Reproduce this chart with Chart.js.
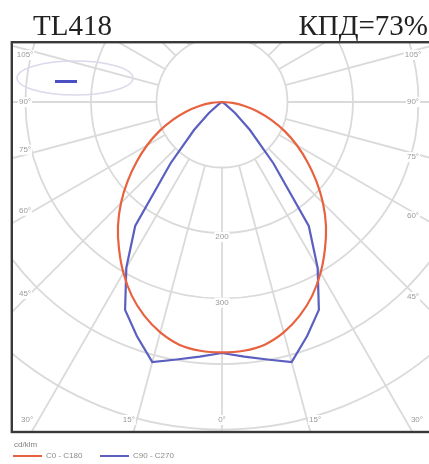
<!DOCTYPE html>
<html>
<head>
<meta charset="utf-8">
<script src="https://cdn.jsdelivr.net/npm/chart.js@4.4.1/dist/chart.umd.min.js"></script>
<style>
  html, body { margin: 0; padding: 0; background: #fff; overflow: hidden; }
  canvas { display: block; }
</style>
</head>
<body>
<canvas id="polarChart" width="429" height="464"></canvas>
<script>
// angle from nadir (deg), same on both halves of each plane
const angles = [0, 5, 10, 15, 20, 25, 30, 35, 40, 45, 50, 55, 60, 65, 70, 75, 80, 85, 90];
// luminous intensity, cd/klm
const c0c180 = [382, 381, 376, 364, 347, 326, 301, 274, 247, 218, 188, 159, 132, 106, 80, 57, 35, 16, 0];
const c90c270 = [383, 390, 399, 411, 380, 350, 292, 231, 122, 60, 26, 7, 2, 0, 0, 0, 0, 0, 0];

const rings = [100, 200, 300, 400, 500];
const ringLabels = [200, 300];
const angleTicks = [0, 15, 30, 45, 60, 75, 90, 105];

const seriesNames = ['C0 - C180', 'C90 - C270'];
const seriesColors = ['#e8623f', '#5b5fbf'];

// visible window of the diagram, in cd/klm
const view = { xMin: -319, xMax: 316, yMin: -502, yMax: 90 };

// turns one plane (both halves mirrored) into x/y points
function planePoints(values) {
    const pts = [];
    for (let i = angles.length - 1; i >= 0; i--) {
        const a = angles[i] * Math.PI / 180;
        pts.push({ x: -values[i] * Math.sin(a), y: -values[i] * Math.cos(a) });
    }
    for (let i = 1; i < angles.length; i++) {
        const a = angles[i] * Math.PI / 180;
        pts.push({ x: values[i] * Math.sin(a), y: -values[i] * Math.cos(a) });
    }
    return pts;
}

function labelBox(ctx, text, x, y) {
    const w = ctx.measureText(text).width;
    ctx.fillStyle = '#fff';
    ctx.fillRect(x - w / 2 - 1, y - 5, w + 2, 10);
    ctx.fillStyle = '#9a9a9a';
    ctx.fillText(text, x, y);
}

// polar grid: rings, spokes, and their labels
const polarGrid = {
    id: 'polarGrid',
    beforeDatasetsDraw(chart) {
        const { ctx, chartArea: area } = chart;
        const xs = chart.scales.x, ys = chart.scales.y;
        const px = (v) => xs.getPixelForValue(v);
        const py = (v) => ys.getPixelForValue(v);
        const cx = px(0), cy = py(0);

        ctx.save();
        ctx.beginPath();
        ctx.rect(area.left, area.top, area.right - area.left, area.bottom - area.top);
        ctx.clip();

        ctx.strokeStyle = '#dadada';
        ctx.lineWidth = 1.8;
        rings.forEach(r => {
            ctx.beginPath();
            ctx.arc(cx, cy, px(r) - cx, 0, Math.PI * 2);
            ctx.stroke();
        });
        for (let a = 0; a < 360; a += 15) {
            const t = a * Math.PI / 180;
            ctx.beginPath();
            ctx.moveTo(px(rings[0] * Math.sin(t)), py(-rings[0] * Math.cos(t)));
            ctx.lineTo(px(900 * Math.sin(t)), py(-900 * Math.cos(t)));
            ctx.stroke();
        }

        // faint inset at top left
        ctx.strokeStyle = '#dcd9ec';
        ctx.lineWidth = 1.5;
        ctx.beginPath();
        ctx.ellipse(area.left + 62, area.top + 35, 58, 17, 0, 0, Math.PI * 2);
        ctx.stroke();
        ctx.fillStyle = '#4b4fc4';
        ctx.fillRect(area.left + 42, area.top + 37, 22, 3);

        ctx.font = '8px "Liberation Sans", Arial, sans-serif';
        ctx.textAlign = 'center';
        ctx.textBaseline = 'middle';

        ringLabels.forEach(r => labelBox(ctx, String(r), cx, py(-r) + 4));

        const leftX = area.left + 12, rightX = area.right - 16, lowY = area.bottom - 11;
        angleTicks.forEach(deg => {
            const t = deg * Math.PI / 180;
            const text = deg + '°';
            const dxBottom = deg < 90 ? (area.bottom - cy) * Math.tan(t) : Infinity;
            if (cx - dxBottom >= area.left) {
                if (deg === 0) {
                    labelBox(ctx, text, cx, lowY);
                } else {
                    labelBox(ctx, text, cx - dxBottom - 5, lowY);
                    labelBox(ctx, text, cx + dxBottom + 5, lowY);
                }
            } else {
                const shift = deg === 90 ? 0 : (deg < 90 ? -5 : 6);
                const yl = cy + (cx - leftX) / Math.tan(t) + shift;
                const yr = cy + (rightX - cx) / Math.tan(t) + (deg === 90 ? 0 : 4);
                labelBox(ctx, text, leftX, Math.abs(deg - 90) < 1e-9 ? cy : yl);
                labelBox(ctx, text, rightX, Math.abs(deg - 90) < 1e-9 ? cy : yr);
            }
        });
        ctx.restore();
    },
    afterDraw(chart) {
        const { ctx, chartArea: area } = chart;
        ctx.save();
        // frame
        ctx.strokeStyle = '#393939';
        ctx.lineWidth = 2.4;
        ctx.strokeRect(area.left - 1.2, area.top - 0.8, area.right - area.left + 20, area.bottom - area.top + 1.8);

        // header
        ctx.fillStyle = '#222';
        ctx.font = '29px "Liberation Serif", "Times New Roman", serif';
        ctx.textBaseline = 'alphabetic';
        ctx.textAlign = 'left';
        ctx.fillText('TL418', 33, 35);
        ctx.textAlign = 'right';
        ctx.fillText('КПД=73%', 428, 35);

        // legend
        ctx.font = '8px "Liberation Sans", Arial, sans-serif';
        ctx.textAlign = 'left';
        ctx.textBaseline = 'middle';
        ctx.fillStyle = '#808080';
        ctx.fillText('cd/klm', 14, 445);
        let x = 13;
        chart.data.datasets.forEach(ds => {
            ctx.strokeStyle = ds.borderColor;
            ctx.lineWidth = 2;
            ctx.beginPath();
            ctx.moveTo(x, 456);
            ctx.lineTo(x + 29, 456);
            ctx.stroke();
            ctx.fillStyle = '#8a8a8a';
            ctx.fillText(ds.label, x + 33, 456);
            x += 87;
        });
        ctx.restore();
    }
};

const ctx = document.getElementById('polarChart').getContext('2d');
new Chart(ctx, {
    type: 'scatter',
    data: {
        datasets: [
            {
                label: seriesNames[0],
                data: planePoints(c0c180),
                showLine: true,
                borderColor: seriesColors[0],
                borderWidth: 2.2,
                pointRadius: 0,
                tension: 0.35
            },
            {
                label: seriesNames[1],
                data: planePoints(c90c270),
                showLine: true,
                borderColor: seriesColors[1],
                borderWidth: 2.2,
                pointRadius: 0,
                tension: 0
            }
        ]
    },
    options: {
        responsive: false,
        animation: false,
        layout: { padding: { left: 13, top: 43, right: 0, bottom: 33 } },
        scales: {
            x: { type: 'linear', display: false, min: view.xMin, max: view.xMax },
            y: { type: 'linear', display: false, min: view.yMin, max: view.yMax }
        },
        plugins: {
            legend: { display: false },
            tooltip: { enabled: false }
        }
    },
    plugins: [polarGrid]
});
</script>
</body>
</html>
